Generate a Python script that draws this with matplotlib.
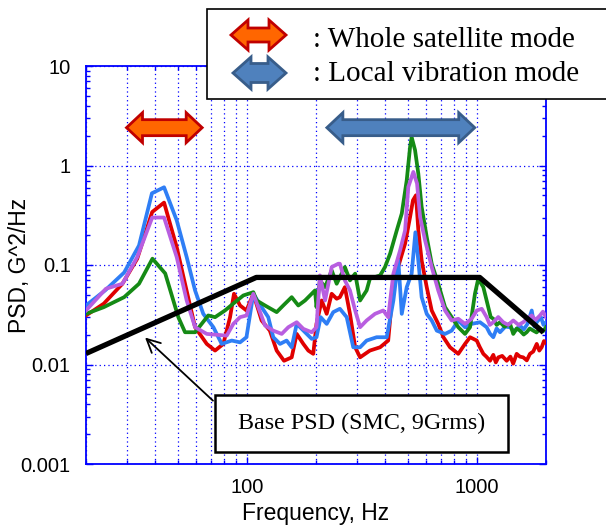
import numpy as np
import matplotlib
matplotlib.use('Agg')
import matplotlib.pyplot as plt
from matplotlib.patches import Polygon, Rectangle
from matplotlib.transforms import IdentityTransform

# PSD response of four accelerometer channels, G^2/Hz vs Hz
freq_blue = [20, 24.2, 29.3, 34.0, 38.7, 43.7, 49.6, 54.8, 59.6, 64.7, 71.6, 77.8, 86.0, 93.5, 99.7,
             106.8, 116, 124, 130.4, 139.5, 149, 156.8, 164.9, 179.2, 191.6, 201, 209.5, 222.6, 237.7,
             254, 272, 290.4, 311, 332, 367, 406, 434, 456, 472, 496, 521, 541, 557, 576, 606, 637,
             670, 728, 778, 831, 889, 950, 1033, 1104, 1140, 1180, 1220, 1262, 1330, 1394, 1460,
             1541, 1600, 1660, 1734, 1780, 1823, 1900, 1950, 2000]
psd_blue = [0.0392, 0.0555, 0.084, 0.157, 0.526, 0.604, 0.281, 0.120, 0.0555, 0.0323, 0.0237, 0.0161,
            0.0174, 0.0167, 0.0188, 0.0514, 0.0377, 0.0299, 0.0188, 0.0161, 0.0174, 0.0149, 0.0256,
            0.0211, 0.0181, 0.0188, 0.0299, 0.0256, 0.0336, 0.0363, 0.0299, 0.0149, 0.0149, 0.0174,
            0.0188, 0.0188, 0.044, 0.111, 0.0323, 0.0599, 0.0817, 0.213, 0.111, 0.0475, 0.0323,
            0.0277, 0.0219, 0.0203, 0.0219, 0.0277, 0.0237, 0.0256, 0.0266, 0.0237, 0.0205, 0.0188,
            0.0230, 0.0211, 0.0240, 0.0237, 0.0215, 0.0246, 0.0225, 0.0255, 0.0349, 0.0240, 0.0266,
            0.0300, 0.0250, 0.0266]

freq_red = [20, 23.9, 28.8, 33.4, 38.8, 43.7, 49.6, 53.9, 59.6, 67, 72.8, 79.1, 84.6, 88.0, 93.5,
            99.7, 106.8, 116, 126, 134.9, 145.2, 156.8, 164.9, 176.2, 185.2, 194.6, 201, 211.7,
            222.6, 234, 246, 254, 267, 281, 296, 311, 343, 380, 412, 434, 464, 488, 513, 528, 544,
            557, 576, 606, 637, 680, 716, 765, 831, 889, 935, 1000, 1030, 1068, 1100, 1142, 1180,
            1210, 1241, 1290, 1349, 1400, 1440, 1491, 1540, 1592, 1650, 1703, 1760, 1823, 1870,
            1915, 1960, 2000]
psd_red = [0.0311, 0.0409, 0.0648, 0.1157, 0.341, 0.424, 0.151, 0.0648, 0.0237, 0.0161, 0.0138,
           0.0161, 0.0299, 0.0514, 0.0392, 0.0349, 0.0514, 0.0277, 0.0219, 0.0138, 0.0109, 0.0118,
           0.0203, 0.0161, 0.0138, 0.0128, 0.0256, 0.044, 0.0323, 0.0514, 0.0458, 0.0475, 0.0599,
           0.0323, 0.0149, 0.0118, 0.0138, 0.0149, 0.0174, 0.0648, 0.111, 0.164, 0.304, 0.447,
           0.502, 0.225, 0.111, 0.0599, 0.0349, 0.0256, 0.0188, 0.0149, 0.0128, 0.0161, 0.0188,
           0.0174, 0.0150, 0.0128, 0.0120, 0.0109, 0.0125, 0.0105, 0.0118, 0.0122, 0.0109, 0.0120,
           0.0102, 0.0128, 0.0120, 0.0118, 0.0110, 0.0128, 0.0135, 0.0161, 0.0138, 0.0149, 0.0172,
           0.0165]

freq_green = [20, 23.9, 29.3, 34.0, 38.9, 44.2, 50.4, 53.9, 59.6, 68.0, 72.8, 80.4, 88.9, 96.6,
              106.8, 110.4, 120, 134.9, 144.1, 156.8, 167.5, 179.2, 191.6, 198, 201, 208, 219, 234,
              246, 267, 281, 296, 311, 332, 343, 380, 399, 420, 449, 472, 496, 513, 521, 539, 557,
              576, 606, 637, 680, 728, 778, 831, 889, 935, 982, 1015, 1068, 1122, 1150, 1180, 1220,
              1262, 1320, 1394, 1441, 1490, 1541, 1600, 1648, 1700, 1761, 1820, 1883, 1940, 2000]
psd_green = [0.0323, 0.0377, 0.0475, 0.0648, 0.1157, 0.0823, 0.0299, 0.0211, 0.0211, 0.0311,
             0.0299, 0.0349, 0.0423, 0.0494, 0.0533, 0.044, 0.0392, 0.0336, 0.0392, 0.0475, 0.0392,
             0.044, 0.0514, 0.0555, 0.0377, 0.070, 0.0599, 0.0883, 0.0648, 0.0953, 0.070, 0.0818,
             0.044, 0.0555, 0.0728, 0.0786, 0.0953, 0.130, 0.223, 0.329, 0.711, 1.54, 1.93, 1.43,
             0.83, 0.383, 0.191, 0.103, 0.0648, 0.0377, 0.0299, 0.0237, 0.0203, 0.0237, 0.0514,
             0.0728, 0.0599, 0.0377, 0.0300, 0.0288, 0.0250, 0.0266, 0.0240, 0.0258, 0.0203,
             0.0230, 0.0219, 0.0200, 0.0211, 0.0230, 0.0219, 0.0210, 0.0228, 0.0215, 0.0237]

freq_purple = [20, 24.4, 28.8, 33.4, 38.8, 43.7, 49.6, 54.8, 59.6, 67, 81.8, 87.4, 93.5, 99.7,
               106.8, 112.2, 120, 130.4, 141.9, 151.6, 164.9, 176.2, 191.6, 201, 208, 219, 234, 250,
               254, 267, 281, 296, 311, 332, 361, 392, 412, 434, 464, 488, 504, 530, 550, 567, 596,
               637, 680, 728, 778, 831, 889, 950, 1000, 1051, 1104, 1140, 1180, 1240, 1303, 1370,
               1441, 1520, 1592, 1660, 1734, 1800, 1883, 1940, 2000]
psd_purple = [0.0349, 0.0577, 0.0648, 0.120, 0.30, 0.30, 0.120, 0.044, 0.0237, 0.0203, 0.0195,
              0.0256, 0.0299, 0.0311, 0.0514, 0.0377, 0.0247, 0.0219, 0.0203, 0.0237, 0.0266,
              0.0228, 0.0211, 0.0237, 0.0786, 0.044, 0.0953, 0.103, 0.103, 0.070, 0.0555, 0.0349,
              0.0237, 0.0277, 0.0323, 0.0349, 0.0299, 0.0818, 0.140, 0.223, 0.609, 0.862, 0.659,
              0.304, 0.177, 0.0953, 0.0555, 0.0349, 0.0277, 0.0288, 0.0256, 0.0288, 0.0349, 0.0363,
              0.0299, 0.0250, 0.0266, 0.0300, 0.0266, 0.0250, 0.0277, 0.0250, 0.0266, 0.0290,
              0.0311, 0.0280, 0.0311, 0.0340, 0.0299]

# base input spectrum (SMC, 9 Grms)
freq_base = [20, 110, 1030, 1950]
psd_base = [0.0129, 0.075, 0.075, 0.021]

# frequency bands of the two mode groups, drawn as double arrows at this PSD level
band_whole = [30, 64]
band_local = [223, 980]
band_level = 2.4

legend_labels = [': Whole satellite mode', ': Local vibration mode']

ORANGE, ORANGE_EDGE = '#ff6600', '#c00000'
STEEL, STEEL_EDGE = '#4f81bd', '#385d8a'

plt.rcParams['font.family'] = ['Liberation Sans', 'DejaVu Sans']

W, H = 606, 531
fig = plt.figure(figsize=(W / 100, H / 100), dpi=100)
ax = fig.add_axes([86 / W, 1 - 464 / H, 460 / W, 398 / H])

lw = 2.7
ax.plot(freq_red, psd_red, color='#e00000', lw=lw, zorder=3)
ax.plot(freq_blue, psd_blue, color='#2f7ef5', lw=lw, zorder=3)
ax.plot(freq_green, psd_green, color='#158a15', lw=lw, zorder=3)
ax.plot(freq_purple, psd_purple, color='#b85ee0', lw=lw, zorder=3)
ax.plot(freq_base, psd_base, color='black', lw=3.8, solid_capstyle='butt', zorder=4)

ax.set_xscale('log')
ax.set_yscale('log')
ax.set_xlim(20, 2000)
ax.set_ylim(0.001, 10)

ax.set_xticks([100, 1000])
ax.set_xticklabels(['100', '1000'])
ax.set_yticks([0.001, 0.01, 0.1, 1, 10])
ax.set_yticklabels(['0.001', '0.01', '0.1', '1', '10'])
ax.tick_params(which='both', direction='in', color='#0000ff', top=True, right=True,
               labelsize=14.5)
ax.tick_params(axis='x', pad=10)
ax.tick_params(axis='y', pad=11)
ax.tick_params(which='major', length=5, width=1)
ax.tick_params(which='minor', length=3, width=1)
ax.xaxis.grid(True, which='both', color='#0000ff', linestyle=(0, (1, 2.5)), lw=0.9)
ax.yaxis.grid(True, which='major', color='#0000ff', linestyle=(0, (1, 2.5)), lw=0.9)
for sp in ax.spines.values():
    sp.set_color('#0000ff')
    sp.set_linewidth(1.3)

ax.set_xlabel('Frequency, Hz', fontsize=16.5)
ax.set_ylabel('PSD, G^2/Hz', fontsize=16.5)
ax.xaxis.set_label_coords(0.5, -(502 - 464) / 398)
ax.yaxis.set_label_coords(-(86 - 31) / 460, 0.5)


def double_arrow(x0, x1, yc, shaft, head, head_len, face, edge, lw=2.0):
    pts = [(x0, yc), (x0 + head_len, yc + head / 2), (x0 + head_len, yc + shaft / 2),
           (x1 - head_len, yc + shaft / 2), (x1 - head_len, yc + head / 2), (x1, yc),
           (x1 - head_len, yc - head / 2), (x1 - head_len, yc - shaft / 2),
           (x0 + head_len, yc - shaft / 2), (x0 + head_len, yc - head / 2)]
    return Polygon(pts, closed=True, facecolor=face, edgecolor=edge, lw=lw,
                   joinstyle='miter', transform=IdentityTransform(), zorder=6)


fig.canvas.draw()
for band, face, edge in [(band_whole, ORANGE, ORANGE_EDGE), (band_local, STEEL, STEEL_EDGE)]:
    (xa, ya), (xb, _) = ax.transData.transform([(band[0], band_level), (band[1], band_level)])
    fig.add_artist(double_arrow(xa, xb, ya, 16, 30, 16, face, edge))

# legend box at the top right, running off the figure edge
fig.add_artist(Rectangle((207 / W, 1 - 99 / H), 0.7, 90 / H, transform=fig.transFigure,
                         facecolor='white', edgecolor='black', lw=1.2, zorder=5))
fig.add_artist(double_arrow(231, 286, H - 35, 14, 30, 17, ORANGE, ORANGE_EDGE))
fig.add_artist(double_arrow(233, 286, H - 73, 19, 32, 18, STEEL, STEEL_EDGE))
fig.text(313 / W, 1 - 47 / H, legend_labels[0], fontsize=21, family='Liberation Serif',
         va='baseline', zorder=7)
fig.text(313 / W, 1 - 81 / H, legend_labels[1], fontsize=21, family='Liberation Serif',
         va='baseline', zorder=7)

# callout for the base spectrum
bx0, bx1, by0, by1 = (215 - 86) / 460, (507.5 - 86) / 460, (464 - 451.7) / 398, (464 - 394.6) / 398
ax.add_patch(Rectangle((bx0, by0), bx1 - bx0, by1 - by0, transform=ax.transAxes,
                       facecolor='white', edgecolor='black', lw=1.8, zorder=5))
ax.text((bx0 + bx1) / 2, (by0 + by1) / 2, 'Base PSD (SMC, 9Grms)', transform=ax.transAxes,
        ha='center', va='center', fontsize=17.3, family='Liberation Serif', zorder=6)
ax.annotate('', xy=(35.4, 0.0195), xycoords='data', xytext=(bx0, by1 - 0.02),
            textcoords='axes fraction',
            arrowprops=dict(arrowstyle='->', color='black', lw=1.3, mutation_scale=24), zorder=6)

fig.savefig('out.png', dpi=100)
